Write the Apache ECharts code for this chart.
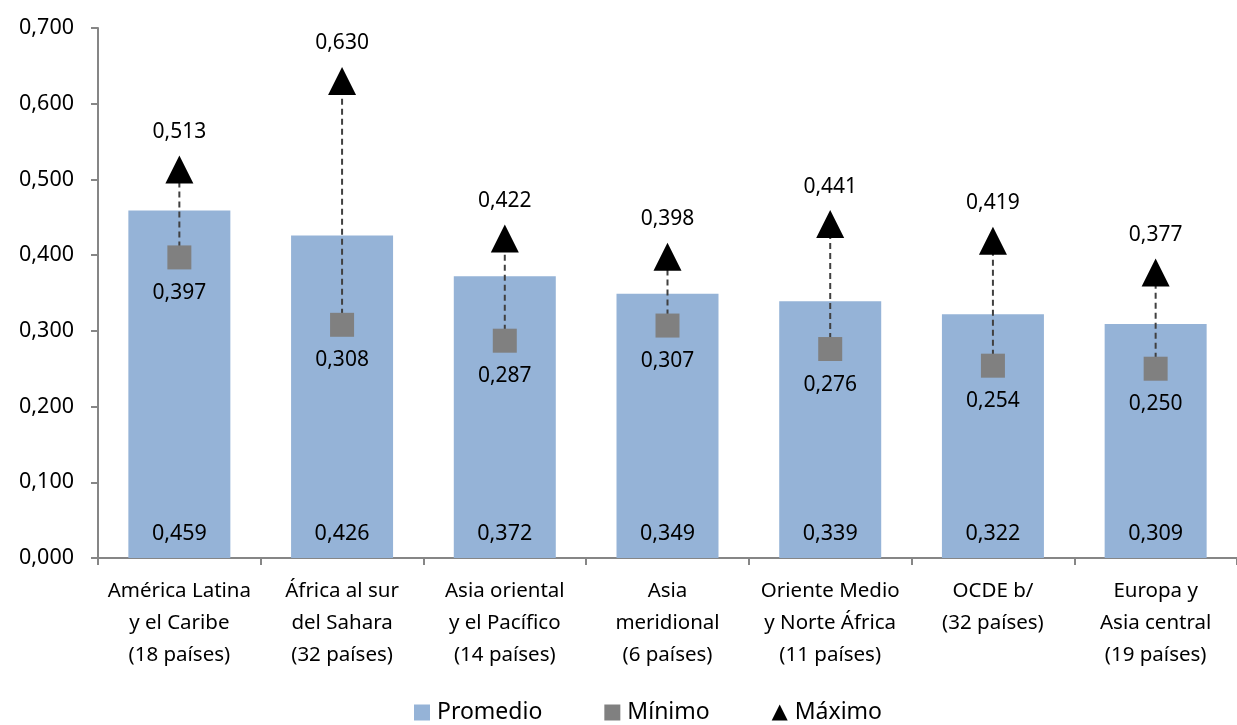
<!DOCTYPE html>
<html>
<head>
<meta charset="utf-8">
<script src="https://cdn.jsdelivr.net/npm/echarts@6/dist/echarts.min.js"></script>
<style>
  html, body { margin: 0; padding: 0; background: #fff; }
  #chart { width: 1237px; height: 725px; }
</style>
</head>
<body>
<div id="chart"></div>
<script>
// Regions and their Gini values
const categories = [
  'América Latina\ny el Caribe\n(18 países)',
  'África al sur\ndel Sahara\n(32 países)',
  'Asia oriental\ny el Pacífico\n(14 países)',
  'Asia\nmeridional\n(6 países)',
  'Oriente Medio\ny Norte África\n(11 países)',
  'OCDE b/\n(32 países)',
  'Europa y\nAsia central\n(19 países)'
];
const promedio = [0.459, 0.426, 0.372, 0.349, 0.339, 0.322, 0.309];
const minimo   = [0.397, 0.308, 0.287, 0.307, 0.276, 0.254, 0.250];
const maximo   = [0.513, 0.630, 0.422, 0.398, 0.441, 0.419, 0.377];
const yTicks = { min: 0, max: 0.7, interval: 0.1 };

const FONT = '"Noto Sans", sans-serif';
const fmt = v => v.toFixed(3).replace('.', ',');

const chart = echarts.init(document.getElementById('chart'));

chart.setOption({
  animation: false,
  textStyle: { fontFamily: FONT, color: '#000' },
  grid: { left: 98, top: 28, width: 1149, height: 530, containLabel: false },
  legend: {
    top: 701,
    left: 414,
    padding: 0,
    itemGap: 62,
    itemWidth: 16,
    itemHeight: 16,
    textStyle: { fontSize: 23, fontFamily: FONT, color: '#000', padding: [0, 0, 0, 2] },
    data: [
      { name: 'Promedio', icon: 'rect' },
      { name: 'Mínimo', icon: 'rect' },
      { name: 'Máximo', icon: 'triangle' }
    ]
  },
  xAxis: {
    type: 'category',
    data: categories,
    axisLine: { lineStyle: { color: '#868686', width: 2 } },
    axisTick: { show: true, length: 7, lineStyle: { color: '#868686', width: 2 } },
    axisLabel: { fontSize: 20.5, lineHeight: 32, margin: 17, color: '#000', fontFamily: FONT, interval: 0 }
  },
  yAxis: {
    type: 'value',
    min: yTicks.min,
    max: yTicks.max,
    interval: yTicks.interval,
    splitLine: { show: false },
    axisLine: { show: true, lineStyle: { color: '#868686', width: 2 } },
    axisTick: { show: true, length: 7, lineStyle: { color: '#868686', width: 2 } },
    axisLabel: { fontSize: 21.5, margin: 24, color: '#000', fontFamily: FONT, formatter: v => fmt(v) }
  },
  series: [
    {
      name: 'Promedio',
      type: 'bar',
      data: promedio,
      barWidth: 102,
      itemStyle: { color: '#95B3D7' },
      label: {
        show: true,
        position: 'insideBottom',
        distance: 13,
        fontSize: 21.5,
        color: '#000',
        fontFamily: FONT,
        formatter: p => fmt(p.value)
      },
      z: 1
    },
    {
      name: 'Rango',
      type: 'custom',
      data: categories.map((c, i) => [i, minimo[i], maximo[i]]),
      renderItem: (params, api) => {
        const a = api.coord([api.value(0), api.value(1)]);
        const b = api.coord([api.value(0), api.value(2)]);
        return {
          type: 'line',
          shape: { x1: a[0], y1: a[1], x2: b[0], y2: b[1] },
          style: { stroke: '#404040', lineWidth: 2, lineDash: [6, 4] }
        };
      },
      silent: true,
      z: 2
    },
    {
      name: 'Mínimo',
      type: 'scatter',
      data: minimo,
      symbol: 'rect',
      symbolSize: 24,
      itemStyle: { color: '#808080', opacity: 1 },
      label: {
        show: true,
        position: 'bottom',
        distance: 13,
        fontSize: 21,
        color: '#000',
        fontFamily: FONT,
        formatter: p => fmt(p.value)
      },
      z: 3
    },
    {
      name: 'Máximo',
      type: 'scatter',
      data: maximo,
      symbol: 'triangle',
      symbolSize: 28,
      itemStyle: { color: '#000', opacity: 1 },
      label: {
        show: true,
        position: 'top',
        distance: 13,
        fontSize: 21,
        color: '#000',
        fontFamily: FONT,
        formatter: p => fmt(p.value)
      },
      z: 4
    }
  ]
});
</script>
</body>
</html>
